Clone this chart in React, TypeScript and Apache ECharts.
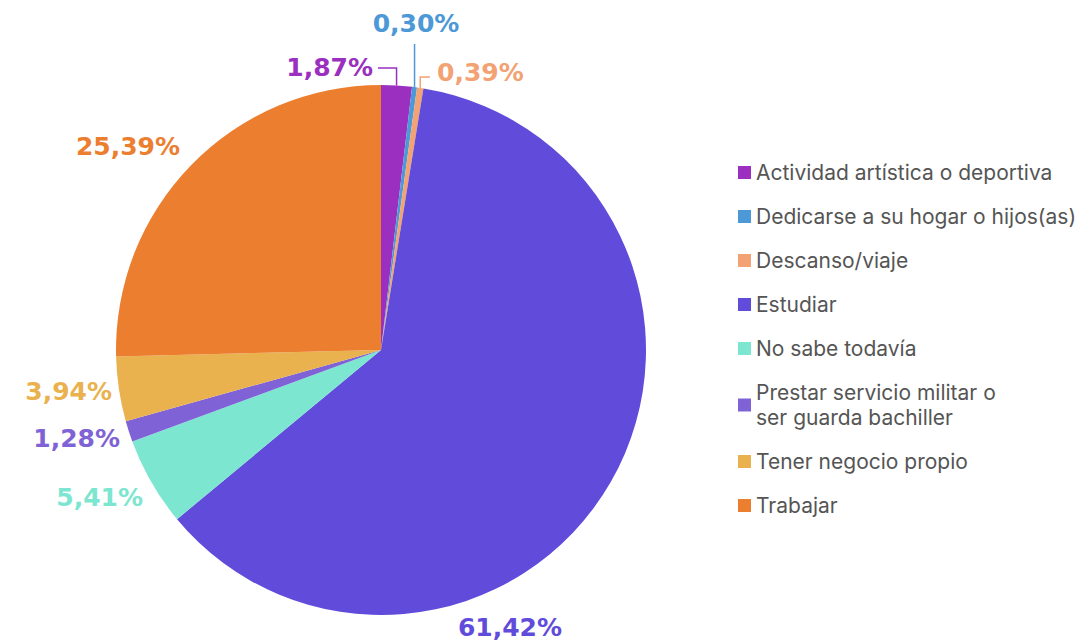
import React, { useEffect, useRef } from "react";
import * as echarts from "echarts";

const categories = [
  "Actividad artística o deportiva",
  "Dedicarse a su hogar o hijos(as)",
  "Descanso/viaje",
  "Estudiar",
  "No sabe todavía",
  "Prestar servicio militar o\nser guarda bachiller",
  "Tener negocio propio",
  "Trabajar",
];
const values = [1.87, 0.3, 0.39, 61.42, 5.41, 1.28, 3.94, 25.39];
const colors = ["#9a2fc0", "#4d98d6", "#f2a273", "#614bdb", "#7de6d0", "#7f63d6", "#eab24f", "#ec7e30"];

// label anchor positions (style only): [x, y, align]
const labelPos: [number, number, string][] = [
  [373, 67, "right"],
  [416, 23, "center"],
  [437, 72, "left"],
  [510, 627, "center"],
  [143, 497, "right"],
  [120, 438, "right"],
  [112, 391, "right"],
  [128, 146, "center"],
];

const CX = 381, CY = 350, R = 265;

function edgePoint(i: number): [number, number] {
  const total = values.reduce((a, b) => a + b, 0);
  let cum = 0;
  for (let k = 0; k < i; k++) cum += values[k];
  const mid = ((cum + values[i] / 2) / total) * Math.PI * 2;
  return [CX + R * Math.sin(mid), CY - R * Math.cos(mid)];
}

export default function App() {
  const ref = useRef<HTMLDivElement>(null);
  useEffect(() => {
    document.body.style.margin = "0";
    const chart = echarts.init(ref.current!, null, { renderer: "svg" });
    const fmt = (v: number) => v.toFixed(2).replace(".", ",") + "%";
    chart.setOption({
      animation: false,
      color: colors,
      legend: {
        orient: "vertical",
        left: 733,
        top: 155,
        itemWidth: 13,
        itemHeight: 13,
        itemGap: 19,
        icon: "rect",
        textStyle: { fontFamily: "Inter", fontSize: 21, color: "#555", lineHeight: 25 },
        data: categories,
      },
      series: [
        {
          type: "pie",
          center: [CX, CY],
          radius: [0, R],
          startAngle: 90,
          clockwise: true,
          data: categories.map((c, i) => ({
            name: c,
            value: values[i],
            itemStyle: { color: colors[i] },
            label: { color: colors[i] },
            labelLine: { show: i < 3, lineStyle: { color: colors[i], width: 1.5 } },
          })),
          label: {
            show: true,
            position: "outside",
            formatter: (p: any) => fmt(p.value),
            fontFamily: "DejaVu Sans",
            fontWeight: "bold",
            fontSize: 25,
            overflow: "none",
            width: 200,
          },
          labelLine: { show: true, length: 10, length2: 10, smooth: false },
          labelLayout: (params: any) => {
            const i = params.dataIndex;
            const [x, y, align] = labelPos[i];
            const res: any = { x, y, align, verticalAlign: "middle", hideOverlap: false, moveOverlap: false };
            const p0 = edgePoint(i);
            if (i === 0) res.labelLinePoints = [p0, [p0[0], 68], [378, 68]];
            if (i === 1) res.labelLinePoints = [p0, [p0[0], 44], [p0[0], 44]];
            if (i === 2) res.labelLinePoints = [p0, [p0[0], 77], [430, 77]];
            return res;
          },
        },
      ],
    });
    return () => chart.dispose();
  }, []);
  return <div ref={ref} style={{ width: 1089, height: 641 }} />;
}
